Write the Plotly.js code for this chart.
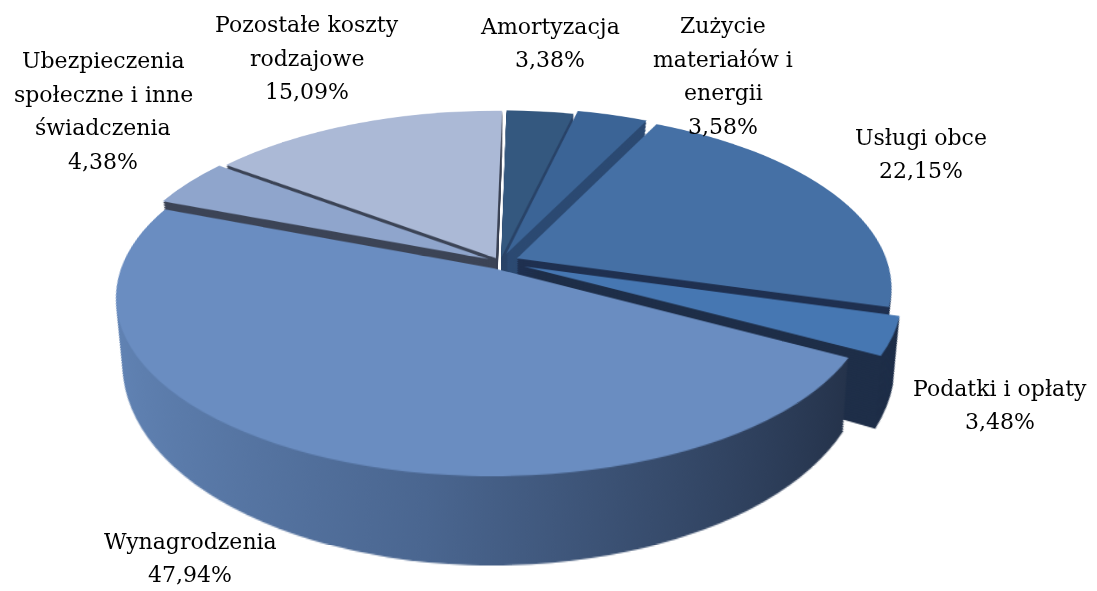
<!DOCTYPE html>
<html><head><meta charset="utf-8">
<script src="https://cdn.plot.ly/plotly-3.0.1.min.js"></script>
<style>body{margin:0;background:#fff}#chart{width:1097px;height:591px}</style>
</head><body><div id="chart"></div>
<script>
// ---- data ----
const categories = ["Amortyzacja", "Zużycie<br>materiałów i<br>energii", "Usługi obce", "Podatki i opłaty", "Wynagrodzenia", "Ubezpieczenia<br>społeczne i inne<br>świadczenia", "Pozostałe koszty<br>rodzajowe"];
const values = [3.38, 3.58, 22.15, 3.48, 47.94, 4.38, 15.09];

// ---- styles ----
const topColors  = ["#34587f", "#3b6496", "#4570a5", "#4677b2", "#6a8dc1", "#8fa5cc", "#abb9d6"];
const sideColors = ["#2a4468", "#2c4a72", "#1f3050", "#1e2e48", "#44597f", "#3c4456", "#3c4456"];
const pulls = [0.025, 0.05, 0.05, 0.07, 0.04, 0.035, 0.025];
const labelX = [550, 723, 921, 1000, 190, 103, 307];
const labelY = [43, 76, 154, 405, 558, 111, 58];

const W = 1097, H = 591;
const CX = 500, CY = 262, R = 190, SX = 1.95, DEPTH = 64, STEP = 2, LINE = 33.5;
const TILT = 25, PERSP = 500, Y0 = 33;
const K = Math.sin(TILT * Math.PI / 180) / PERSP;
const maxPull = Math.max(...pulls);
const half = R * (1 + maxPull);

function domainFor(dy) {
  return {x: [(CX - half) / W, (CX + half) / W], y: [1 - (CY + dy + half) / H, 1 - (CY + dy - half) / H]};
}
function pieTrace(dy, colors) {
  return {
    type: 'pie', labels: categories, values: values, sort: false,
    direction: 'clockwise', rotation: 1, pull: pulls,
    marker: {colors: colors, line: {width: 0}},
    textinfo: 'none', hoverinfo: 'skip', showlegend: false,
    domain: domainFor(dy)
  };
}
const depths = [];
for (let d = DEPTH; d > 0; d -= STEP) depths.push(d);
const traces = depths.map(d => pieTrace(d, sideColors));
traces.push(pieTrace(0, topColors));

const fmt = v => v.toFixed(2).replace('.', ',') + '%';
const annotations = [];
categories.forEach((c, i) => {
  const lines = c.split('<br>').concat([fmt(values[i])]);
  lines.forEach((t, j) => {
    annotations.push({
      text: t, showarrow: false, xref: 'paper', yref: 'paper',
      x: labelX[i] / W, y: 1 - (labelY[i] + (j - (lines.length - 1) / 2) * LINE) / H,
      xanchor: 'center', yanchor: 'middle',
      font: {family: 'DejaVu Serif, serif', size: 22, color: '#000'}
    });
  });
});

Plotly.newPlot('chart', traces, {
  width: W, height: H,
  margin: {l: 0, r: 0, t: 0, b: 0},
  paper_bgcolor: 'rgba(0,0,0,0)', showlegend: false,
  annotations: annotations
}, {displayModeBar: false, staticPlot: true}).then(gd => {
  const pieLayer = gd.querySelector('.pielayer');
  const svg = pieLayer.ownerSVGElement;
  const defs = svg.querySelector('defs');
  const ns = 'http://www.w3.org/2000/svg';
  const grad = document.createElementNS(ns, 'linearGradient');
  grad.setAttribute('id', 'wynSide');
  grad.setAttribute('x1', '0'); grad.setAttribute('x2', '1');
  grad.setAttribute('y1', '0'); grad.setAttribute('y2', '0');
  [['0', '#6183b4'], ['0.45', '#4a6690'], ['1', '#25334b']].forEach(([o, c]) => {
    const s = document.createElementNS(ns, 'stop');
    s.setAttribute('offset', o); s.setAttribute('stop-color', c);
    grad.appendChild(s);
  });
  defs.appendChild(grad);
  const groups = pieLayer.querySelectorAll('.trace');
  groups.forEach((g, i) => {
    const c = gd.calcdata[i][0];
    let sx = SX;
    if (i < depths.length) {
      const dy = depths[i];
      sx *= (1 - K * (Y0 + dy)) / (1 - K * Y0) * (1 - 0.018 * dy / DEPTH);
      const sl = g.querySelectorAll('.slice path.surface');
      if (sl[4]) sl[4].style.fill = 'url(#wynSide)';
    }
    g.setAttribute('transform', `translate(${c.cx},${c.cy}) scale(${sx},1) translate(${-c.cx},${-c.cy})`);
  });
  // perspective tilt of the pie drawing (labels live in the top svg and stay flat)
  svg.style.transformOrigin = `${CX}px ${CY}px`;
  svg.style.transform = `perspective(${PERSP}px) rotateX(${TILT}deg)`;
});
</script></body></html>
